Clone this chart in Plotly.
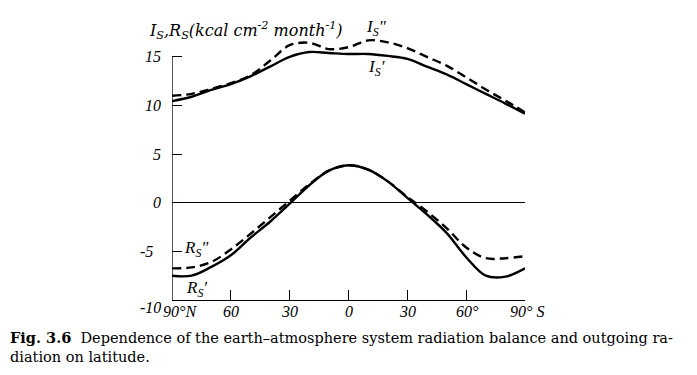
import plotly.graph_objects as go

# ---------------- data ----------------
LATITUDE = [-90, -80, -70, -60, -50, -40, -30, -20, -10, 0, 10, 20, 30, 40, 50, 60, 70, 80, 90]
I_S_PRIME = [10.45, 10.9, 11.6, 12.2, 13.0, 14.0, 15.0, 15.5, 15.4, 15.3, 15.3, 15.1, 14.8, 14.0, 13.2, 12.2, 11.2, 10.2, 9.15]
I_S_DPRIME = [11.0, 11.2, 11.7, 12.3, 13.1, 14.6, 16.2, 16.45, 15.8, 16.0, 16.7, 16.5, 15.9, 15.0, 14.1, 12.9, 11.65, 10.5, 9.3]
R_S_PRIME = [-7.5, -7.5, -6.6, -5.4, -3.6, -1.95, -0.1, 1.8, 3.3, 3.85, 3.4, 2.2, 0.5, -1.2, -3.1, -5.6, -7.5, -7.6, -6.75]
R_S_DPRIME = [-6.75, -6.65, -6.1, -4.8, -3.2, -1.5, 0.2, 1.9, 3.3, 3.85, 3.4, 2.2, 0.6, -0.9, -2.6, -4.6, -5.7, -5.7, -5.5]

X_TICK_VALUES = [-90, -60, -30, 0, 30, 60, 90]
X_TICK_LABELS = ["90°N", "60", "30", "0", "30", "60°", "90° S"]
Y_TICK_VALUES = [-10, -5, 0, 5, 10, 15]
Y_TICK_LABELS = ["-10", "-5", "0", "5", "10", "15"]

Y_TITLE = "<i>I<sub>S</sub>,R<sub>S</sub>(kcal cm<sup>-2</sup> month<sup>-1</sup>)</i>"
CAPTION = ("<b>Fig. 3.6</b>\u00a0\u00a0Dependence of the earth\u2013atmosphere system radiation balance and outgoing ra-"
           "<br>diation on latitude.")

SERIF = "Liberation Serif"
WIDE_SERIF = "DejaVu Serif"

fig = go.Figure()

line_solid = dict(color="black", width=2.4, shape="spline", smoothing=1.0)
line_dash = dict(color="black", width=2.4, shape="spline", smoothing=1.0, dash="9px,5px")

fig.add_trace(go.Scatter(x=LATITUDE, y=I_S_PRIME, mode="lines", line=line_solid, name="I's"))
fig.add_trace(go.Scatter(x=LATITUDE, y=I_S_DPRIME, mode="lines", line=line_dash, name="I''s"))
fig.add_trace(go.Scatter(x=LATITUDE, y=R_S_PRIME, mode="lines", line=line_solid, name="R's"))
fig.add_trace(go.Scatter(x=LATITUDE, y=R_S_DPRIME, mode="lines", line=line_dash, name="R''s"))

tick_font = dict(family=SERIF, size=16, color="black", style="italic")

# the page body adds an 8px offset, so the figure is 8px smaller than the window
fig.update_layout(
    width=689, height=367,
    margin=dict(l=164, r=172, t=10, b=75, pad=0),
    paper_bgcolor="white", plot_bgcolor="white",
    showlegend=False,
    xaxis=dict(
        range=[-90, 90], showgrid=False, zeroline=False,
        showline=True, linecolor="black", linewidth=1.3,
        tickmode="array", tickvals=X_TICK_VALUES,
        ticks="inside", ticklen=10, tickwidth=1.3, tickcolor="black",
        showticklabels=False,
    ),
    yaxis=dict(
        range=[-10, 19], showgrid=False,
        zeroline=True, zerolinecolor="black", zerolinewidth=1.1,
        showline=False,
        tickmode="array", tickvals=Y_TICK_VALUES,
        ticks="inside", ticklen=10, tickwidth=1.3, tickcolor="black",
        showticklabels=False,
    ),
)

# y-axis line only from -10 up to 15
fig.add_shape(type="line", xref="x", yref="y", x0=-90, x1=-90, y0=-10, y1=15,
              line=dict(color="black", width=1.3))

# x tick labels
x_shifts = [8, 0, 0, 0, 0, 1, 2]
for v, lab, sh in zip(X_TICK_VALUES, X_TICK_LABELS, x_shifts):
    fig.add_annotation(x=v, y=0, xref="x", yref="paper", text="<i>" + lab + "</i>", showarrow=False,
                       xanchor="center", yanchor="top", xshift=sh, yshift=-1,
                       font=tick_font)

# y tick labels
y_xshifts = [-9, -17, -9, -9, -9, -9]
y_yshifts = [-7, 0, 0, 0, 0, 0]
for v, lab, xs, ys in zip(Y_TICK_VALUES, Y_TICK_LABELS, y_xshifts, y_yshifts):
    fig.add_annotation(x=0, y=v, xref="paper", yref="y", text="<i>" + lab + "</i>", showarrow=False,
                       xanchor="right", yanchor="middle", xshift=xs, yshift=ys,
                       font=tick_font)

# axis title
fig.add_annotation(x=-0.071, y=0.954, xref="paper", yref="paper", text=Y_TITLE, showarrow=False,
                   xanchor="left", yanchor="middle",
                   font=dict(family=WIDE_SERIF, size=16, color="black"))

# curve labels
curve_labels = [
    ("<i>I<sub>S</sub>\u2033</i>", 14.5, 18.0),
    ("<i>I<sub>S</sub>\u2032</i>", 14.5, 13.9),
    ("<i>R<sub>S</sub>\u2033</i>", -77.5, -4.8),
    ("<i>R<sub>S</sub>\u2032</i>", -77.5, -8.9),
]
for txt, lx, ly in curve_labels:
    fig.add_annotation(x=lx, y=ly, xref="x", yref="y", text=txt, showarrow=False,
                       xanchor="center", yanchor="middle",
                       font=dict(family=SERIF, size=17, color="black"))

# caption
fig.add_annotation(x=0, y=0, xref="paper", yref="paper", text=CAPTION, showarrow=False,
                   xanchor="left", yanchor="top", align="left",
                   xshift=-164, yshift=-27,
                   font=dict(family=WIDE_SERIF, size=14.5, color="black"))

fig.write_html("out.html")
